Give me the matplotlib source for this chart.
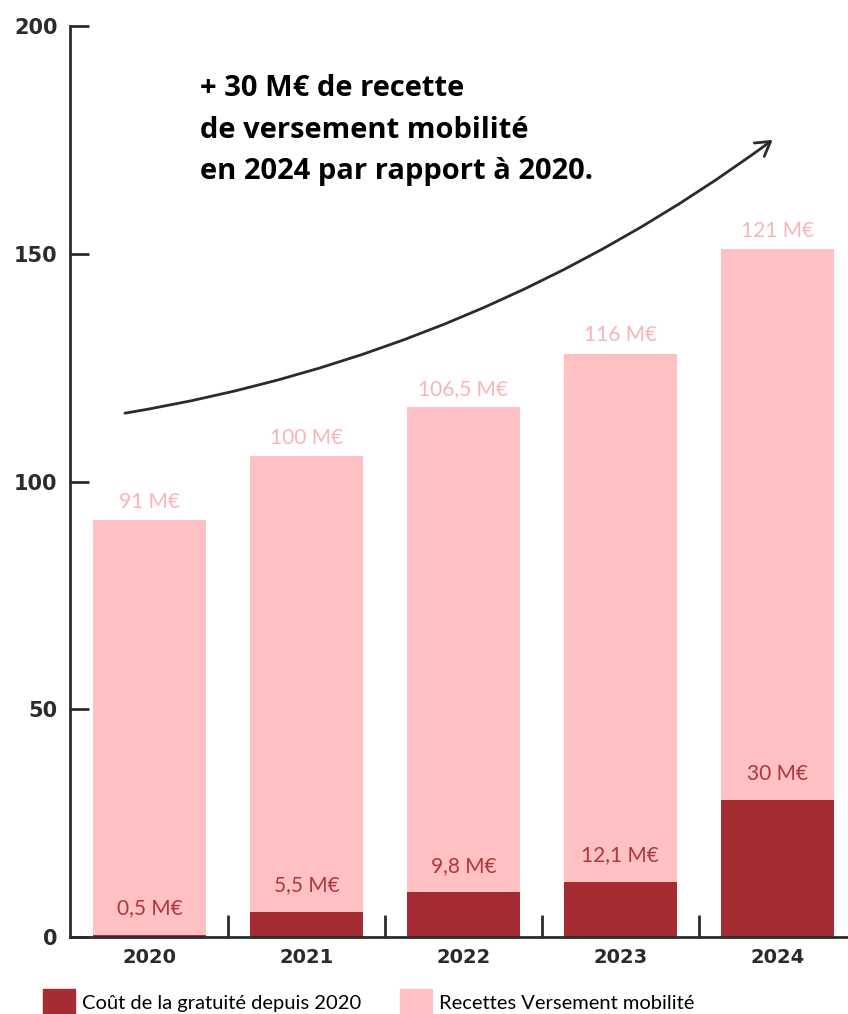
import matplotlib.pyplot as plt
from matplotlib.patches import FancyArrowPatch, Patch

# données (M€)
annees = ["2020", "2021", "2022", "2023", "2024"]
cout_gratuite = [0.5, 5.5, 9.8, 12.1, 30]
recettes_vm = [91, 100, 106.5, 116, 121]
labels_cout = ["0,5 M€", "5,5 M€", "9,8 M€", "12,1 M€", "30 M€"]
labels_vm = ["91 M€", "100 M€", "106,5 M€", "116 M€", "121 M€"]
y_ticks = [0, 50, 100, 150, 200]

rouge = "#A62C33"
rose = "#FFC1C4"
txt_rouge = "#B0353F"
txt_rose = "#F7B5BA"
gris = "#2b2b2b"

fig = plt.figure(figsize=(8.48, 10.14), dpi=100)
ax = fig.add_axes([70 / 848, 1 - 937 / 1014, 1 - 70 / 848, (937 - 26) / 1014])

x = list(range(len(annees)))
largeur = 0.72

# barres empilées
ax.bar(x, cout_gratuite, largeur, color=rouge, zorder=2)
ax.bar(x, recettes_vm, largeur, bottom=cout_gratuite, color=rose, zorder=2)

# étiquettes des valeurs
for i in x:
    ax.annotate(labels_cout[i], (i, cout_gratuite[i]), xytext=(0, 19),
                textcoords="offset points", ha="center", va="center",
                color=txt_rouge, fontsize=15, family="Lato")
    ax.annotate(labels_vm[i], (i, cout_gratuite[i] + recettes_vm[i]), xytext=(0, 13),
                textcoords="offset points", ha="center", va="center",
                color=txt_rose, fontsize=15, family="Lato")

ax.set_xlim(-0.506, 4.45)
ax.set_ylim(0, 200)

# axes
for s in ["top", "right"]:
    ax.spines[s].set_visible(False)
for s in ["left", "bottom"]:
    ax.spines[s].set_color(gris)
    ax.spines[s].set_linewidth(2)
    ax.spines[s].set_zorder(3)

ax.set_yticks(y_ticks)
ax.set_yticklabels([str(v) for v in y_ticks], fontsize=15, fontweight="bold", color=gris)
ax.tick_params(axis="y", direction="in", length=14, width=2, color=gris, pad=9)

ax.set_xticks(x)
ax.set_xticklabels(annees, fontsize=14, fontweight="bold", color=gris)
ax.set_xticks([i + 0.5 for i in x[:-1]], minor=True)
ax.tick_params(axis="x", which="major", length=0, pad=8)
ax.tick_params(axis="x", which="minor", direction="in", length=16, width=2, color=gris)

# flèche de tendance
fleche = FancyArrowPatch((-0.156, 115), (3.97, 175), connectionstyle="arc3,rad=0.12",
                         arrowstyle="->,head_length=10,head_width=6", lw=2, color=gris,
                         zorder=4, shrinkA=0, shrinkB=0)
ax.add_patch(fleche)

fig.text(200 / 848, 1 - 74 / 1014,
         "+ 30 M€ de recette\nde versement mobilité\nen 2024 par rapport à 2020.",
         ha="left", va="top", fontsize=21, fontweight="bold", family="Open Sans",
         linespacing=1.57, color="black")

# légende
poignees = [Patch(color=rouge, label="Coût de la gratuité depuis 2020"),
            Patch(color=rose, label="Recettes Versement mobilité")]
fig.legend(handles=poignees, loc="upper left", bbox_to_anchor=(43 / 848, 1 - 989 / 1014),
           ncol=2, frameon=False, borderpad=0, borderaxespad=0, handlelength=1.6,
           handleheight=1.6, handletextpad=0.35, columnspacing=1.9,
           prop={"family": "Lato", "size": 14.5})

fig.savefig("out.png", dpi=100)
